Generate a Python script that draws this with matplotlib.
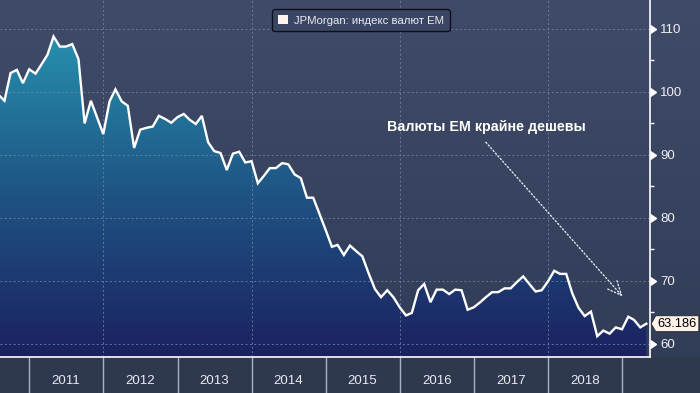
import numpy as np
import pandas as pd
import matplotlib
matplotlib.use('Agg')
import matplotlib.pyplot as plt
import matplotlib.dates as mdates
from matplotlib.colors import LinearSegmentedColormap
from matplotlib.patches import Patch, Rectangle
from matplotlib.path import Path

plt.rcParams['font.family'] = ['Liberation Sans', 'DejaVu Sans']

# monthly values, Aug 2010 .. May 2019
dates = pd.date_range('2010-08-01', periods=106, freq='MS')
em_index = [99.6, 98.6, 103.0, 103.5, 101.4,
            103.6, 102.9, 104.3, 105.9, 108.8, 107.2, 107.2, 107.6, 105.2, 95.0, 98.6, 96.0,
            93.3, 98.5, 100.4, 98.5, 97.8, 91.1, 94.0, 94.3, 94.5, 96.2, 95.7, 95.1,
            96.0, 96.5, 95.6, 94.9, 96.2, 92.0, 90.6, 90.3, 87.6, 90.2, 90.5, 88.8,
            89.0, 85.5, 86.6, 87.9, 87.9, 88.7, 88.5, 86.9, 86.3, 83.2, 83.2, 80.7,
            78.1, 75.4, 75.7, 74.1, 75.6, 74.7, 73.9, 71.2, 68.7, 67.4, 68.5, 67.4,
            65.8, 64.5, 64.9, 68.5, 69.5, 66.6, 68.6, 68.6, 67.9, 68.6, 68.5, 65.4,
            65.8, 66.6, 67.4, 68.2, 68.2, 68.8, 68.8, 69.8, 70.7, 69.5, 68.3, 68.5,
            69.9, 71.6, 71.1, 71.1, 68.0, 65.7, 64.4, 65.1, 61.2, 62.1, 61.6, 62.6,
            62.3, 64.3, 63.8, 62.6, 63.186]
years = list(range(2011, 2020))
y_ticks = [60, 70, 80, 90, 100, 110]
legend_label = 'JPMorgan: индекс валют EM'
note = 'Валюты EM крайне дешевы'

fig = plt.figure(figsize=(7, 3.93), dpi=100)

# figure background gradient + bottom strip
bg = fig.add_axes([0, 0, 1, 1], zorder=-10)
bg_cmap = LinearSegmentedColormap.from_list('bg', ['#303b56', '#3f4b68'])
bg.imshow(np.linspace(0, 1, 256).reshape(-1, 1), cmap=bg_cmap, aspect='auto',
          origin='lower', extent=[0, 1, 0, 1])
bg.add_patch(Rectangle((0, 0), 1, 36 / 393, transform=bg.transAxes,
                       facecolor='#2e3950', edgecolor='none'))
bg.set_xlim(0, 1)
bg.set_ylim(0, 1)
bg.axis('off')

ax = fig.add_axes([0, 36 / 393, 650 / 700, 357 / 393])
ax.set_facecolor('none')

xnum = mdates.date2num(dates)
x0 = mdates.date2num(pd.Timestamp('2010-08-10'))
x1 = mdates.date2num(pd.Timestamp('2019-05-19'))
ylo, yhi = 57.9, 114.6

# gradient fill under the line
fill_cmap = LinearSegmentedColormap.from_list('fill', ['#1b2160', '#1f5584', '#2795b2'])
im = ax.imshow(np.linspace(0, 1, 256).reshape(-1, 1), cmap=fill_cmap, aspect='auto',
               origin='lower', extent=[x0, x1, ylo, 111], zorder=1)
area = ax.fill_between(xnum, em_index, ylo, facecolor='none', edgecolor='none')
im.set_clip_path(area.get_paths()[0], transform=ax.transData)

ax.plot(xnum, em_index, color='white', lw=1.7, zorder=4, solid_joinstyle='miter')

ax.set_xlim(x0, x1)
ax.set_ylim(ylo, yhi)

# grid
for v in y_ticks:
    ax.axhline(v, color='#6f88aa', lw=0.7, ls=(0, (2, 2.5)), alpha=0.8, zorder=2)
for yr in [2012, 2014, 2016, 2018]:
    ax.axvline(mdates.date2num(pd.Timestamp(f'{yr}-01-01')), color='#6f88aa', lw=0.7,
               ls=(0, (2, 2.5)), alpha=0.8, zorder=2)

# spines
for s in ['left', 'top']:
    ax.spines[s].set_visible(False)
ax.spines['right'].set_color('white')
ax.spines['bottom'].set_color('white')
ax.spines['right'].set_linewidth(1.2)
ax.spines['bottom'].set_linewidth(1.2)

# y axis on the right
ax.yaxis.tick_right()
ax.set_yticks(y_ticks)
ax.set_yticks([65, 75, 85, 95, 105], minor=True)
ax.tick_params(axis='y', which='major', length=0, pad=7.5, labelsize=9.5, labelcolor='#eef0f4')
ax.tick_params(axis='y', which='minor', length=3, width=1, color='white', direction='out')
ax.plot([1] * len(y_ticks), y_ticks, transform=ax.get_yaxis_transform(), ls='none',
        marker=9, ms=6, color='white', clip_on=False, zorder=5)

# x axis: year separators and labels
ax.set_xticks([mdates.date2num(pd.Timestamp(f'{y}-01-01')) for y in years])
ax.set_xticklabels([])
ax.set_xticks([mdates.date2num(pd.Timestamp(f'{y}-07-02')) for y in years[:-1]], minor=True)
ax.set_xticklabels([str(y) for y in years[:-1]], minor=True)
ax.tick_params(axis='x', which='major', length=26, width=1, color='#aab2c2', direction='out')
ax.tick_params(axis='x', which='minor', length=0, pad=13, labelsize=9.5, labelcolor='#e8ebf0')

# legend
leg = ax.legend(handles=[Patch(facecolor='#fff4ee', edgecolor='none', label=legend_label)],
                loc='upper center', bbox_to_anchor=(361 / 650, 0.99), fontsize=8.2,
                labelcolor='#e8eaf0', facecolor='#3a4664', edgecolor='#0d1018',
                framealpha=1, handlelength=0.9, handleheight=0.9, borderpad=0.5,
                handletextpad=0.5, fancybox=True)
leg.get_frame().set_linewidth(1)

# annotation
ax.annotate('', xy=(mdates.date2num(pd.Timestamp('2019-01-04')), 67.5),
            xytext=(mdates.date2num(pd.Timestamp('2017-03-01')), 92.0),
            arrowprops=dict(arrowstyle='->,head_length=1.0,head_width=0.45',
                            color='#dfe4ec', lw=1, linestyle=(0, (1, 1.6)),
                            shrinkA=0, shrinkB=0), zorder=6)
ax.text(mdates.date2num(pd.Timestamp('2017-03-04')), 94.4, note, ha='center', va='center',
        fontsize=10.3, fontweight='bold', color='white', zorder=6)


def tag_box(x0, y0, width, height, mutation_size):
    pad = 0.15 * mutation_size
    tip = 0.35 * mutation_size
    x0 -= pad
    y0 -= pad
    width += 2 * pad
    height += 2 * pad
    return Path([(x0 - tip, y0 + height / 2), (x0, y0), (x0 + width, y0),
                 (x0 + width, y0 + height), (x0, y0 + height),
                 (x0 - tip, y0 + height / 2)], closed=True)


ax.annotate(f'{em_index[-1]:.3f}', xy=(1, em_index[-1]), xycoords=ax.get_yaxis_transform(),
            xytext=(5.5, 0), textcoords='offset points', ha='left', va='center',
            fontsize=9.3, color='black', annotation_clip=False, zorder=10,
            bbox=dict(boxstyle=tag_box, facecolor='#fdf3ea', edgecolor='#222222', lw=0.6))

fig.savefig('out.png', dpi=100)
